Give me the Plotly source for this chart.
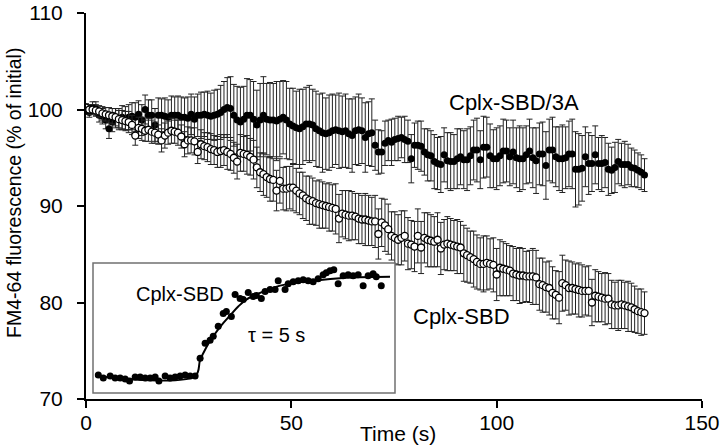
import plotly.graph_objects as go

# ---------------- data ----------------
STEP = 0.8  # s between samples
time_s = [round(i * STEP, 1) for i in range(171)]

# Cplx-SBD/3A (filled circles), mean and SEM
sbd3a_mean = [
    100.0, 99.7, 100.2, 100.1, 99.4, 99.3, 98.9, 98.0, 98.7, 99.1,
    99.0, 99.2, 99.1, 99.2, 99.3, 99.2, 99.5, 98.9, 100.0, 99.4,
    99.4, 98.4, 99.4, 99.4, 99.3, 99.2, 99.4, 99.4, 99.4, 99.2,
    99.2, 99.1, 99.5, 99.0, 99.4, 99.4, 99.5, 99.4, 99.3, 99.4,
    99.5, 99.7, 100.0, 100.2, 100.1, 99.4, 98.9, 98.7, 99.0, 99.4,
    99.4, 99.0, 98.4, 98.9, 99.4, 99.0, 98.9, 98.9, 98.8, 99.0,
    99.2, 98.9, 98.5, 98.3, 98.1, 98.0, 98.2, 98.5, 98.5, 98.4,
    98.0, 97.8, 97.6, 97.5, 97.6, 97.8, 97.9, 97.8, 97.7, 97.8,
    97.5, 97.3, 97.8, 97.9, 97.8, 97.1, 97.5, 97.6, 96.3, 95.6,
    95.6, 96.5, 96.8, 96.6, 96.9, 97.0, 97.1, 96.9, 96.7, 94.9,
    96.3, 96.3, 96.2, 95.6, 95.3, 95.2, 94.6, 94.4, 94.3, 95.3,
    94.7, 94.6, 94.6, 94.9, 95.1, 94.8, 94.8, 95.2, 95.8, 95.8,
    94.8, 96.1, 96.1, 95.2, 94.9, 94.9, 95.2, 95.7, 95.7, 95.1,
    95.6, 95.0, 94.9, 94.9, 95.3, 95.7, 95.0, 94.7, 95.4, 95.4,
    94.2, 95.8, 95.8, 95.1, 94.9, 94.9, 95.0, 95.4, 95.4, 93.8,
    93.8, 93.9, 95.1, 94.4, 94.4, 95.3, 94.4, 94.4, 94.5, 93.8,
    93.7, 94.0, 94.6, 94.3, 94.3, 94.3, 94.0, 93.9, 93.7, 93.5,
    93.2,
]
sbd3a_err = [
    0.5, 0.5, 0.6, 0.7, 0.7, 0.8, 0.9, 1.0, 1.0, 1.0,
    1.1, 1.2, 1.2, 1.3, 1.4, 1.5, 1.4, 1.6, 1.5, 1.6,
    1.6, 1.7, 1.8, 1.7, 1.9, 1.8, 2.0, 1.9, 2.0, 2.1,
    2.0, 2.2, 2.1, 2.3, 2.2, 2.4, 2.3, 2.5, 2.4, 2.6,
    2.6, 2.8, 2.9, 3.1, 3.3, 3.2, 3.5, 3.6, 3.4, 3.8,
    3.7, 3.9, 3.6, 3.8, 4.0, 3.7, 3.9, 3.8, 4.1, 3.9,
    3.8, 4.0, 3.7, 3.9, 3.8, 4.1, 3.9, 3.8, 4.0, 3.7,
    3.9, 3.8, 4.1, 3.7, 3.9, 3.8, 3.6, 3.9, 3.7, 3.8,
    3.6, 3.8, 3.5, 3.7, 3.4, 3.6, 3.3, 3.5, 2.6, 2.3,
    2.2, 2.3, 2.1, 2.4, 2.2, 2.3, 2.1, 2.4, 2.2, 2.5,
    2.3, 2.5, 2.6, 2.4, 2.7, 2.6, 2.8, 2.7, 2.9, 2.8,
    2.9, 3.0, 2.8, 3.1, 2.9, 3.0, 3.2, 3.0, 3.1, 3.3,
    3.0, 3.2, 3.1, 3.3, 3.0, 3.2, 3.1, 3.3, 3.2, 3.0,
    3.3, 3.1, 3.4, 3.2, 3.0, 3.3, 3.1, 3.4, 3.2, 3.3,
    3.5, 3.2, 3.4, 3.1, 3.3, 3.5, 3.2, 3.4, 3.6, 3.9,
    3.7, 3.4, 3.1, 3.2, 2.9, 3.0, 2.7, 2.9, 2.6, 2.7,
    2.4, 2.6, 2.3, 2.2, 2.4, 2.1, 2.0, 1.9, 1.8, 1.8,
    1.7,
]

# Cplx-SBD (open circles), mean and SEM
sbd_mean = [
    100.2, 100.0, 100.0, 99.9, 99.8, 99.6, 99.5, 99.4, 99.3, 99.2,
    99.0, 98.9, 98.8, 98.7, 98.4, 97.3, 98.1, 98.0, 97.8, 97.9,
    97.7, 97.6, 97.4, 96.8, 97.3, 97.6, 97.8, 97.7, 97.6, 97.2,
    96.4, 96.8, 96.8, 96.7, 95.6, 96.4, 96.2, 96.1, 95.9, 95.8,
    95.6, 95.7, 95.8, 95.6, 95.4, 95.0, 94.6, 95.5, 95.4, 95.3,
    95.1, 94.8, 94.0, 93.5, 93.3, 93.0, 92.8, 92.7, 91.6, 92.6,
    91.8, 91.8, 91.9, 91.9, 91.6, 91.3, 91.1, 90.8, 90.6, 90.5,
    90.3, 90.2, 90.1, 90.0, 89.9, 89.8, 89.7, 88.7, 89.2, 89.1,
    89.0, 89.0, 88.9, 88.7, 88.6, 88.6, 88.5, 88.4, 88.4, 87.1,
    88.3, 88.0, 87.6, 86.9, 86.7, 86.5, 86.7, 86.9, 86.1, 86.0,
    85.8, 86.9, 85.7, 86.7, 86.5, 86.4, 86.3, 86.5, 85.6, 86.0,
    86.1, 86.0, 85.9, 85.8, 85.7, 85.1, 84.9, 84.7, 84.5, 84.2,
    84.0, 84.0, 84.1, 84.0, 83.9, 82.9, 83.6, 83.5, 83.4, 83.3,
    83.0, 82.9, 82.8, 82.8, 82.7, 82.7, 82.7, 82.6, 81.9, 81.8,
    81.6, 81.5, 81.0, 80.8, 80.5, 82.0, 81.8, 81.5, 81.5, 81.4,
    81.3, 81.2, 81.2, 81.2, 80.0, 80.7, 80.6, 80.5, 80.4, 80.4,
    79.8, 79.7, 79.7, 79.8, 79.7, 79.6, 79.5, 79.3, 79.1, 79.0,
    78.9,
]
sbd_err = [
    0.4, 0.5, 0.5, 0.6, 0.6, 0.7, 0.7, 0.8, 0.8, 0.9,
    0.9, 1.0, 1.0, 1.1, 1.0, 1.0, 1.1, 1.2, 1.1, 1.2,
    1.2, 1.1, 1.0, 1.2, 1.3, 1.2, 1.3, 1.2, 1.3, 1.2,
    1.3, 1.4, 1.3, 1.4, 1.2, 1.5, 1.4, 1.5, 1.6, 1.5,
    1.6, 1.7, 1.6, 1.8, 1.7, 1.6, 1.8, 1.9, 1.8, 2.0,
    1.9, 2.0, 2.1, 2.0, 2.2, 2.1, 2.3, 2.2, 2.1, 2.3,
    2.2, 2.3, 2.2, 2.4, 2.3, 2.2, 2.4, 2.3, 2.5, 2.4,
    2.3, 2.5, 2.4, 2.3, 2.5, 2.4, 2.6, 2.5, 2.4, 2.5,
    2.6, 2.5, 2.4, 2.6, 2.5, 2.7, 2.6, 2.5, 2.7, 2.6,
    2.5, 2.7, 2.6, 2.5, 2.7, 2.6, 2.8, 2.6, 2.7, 2.5,
    2.6, 2.8, 2.7, 2.6, 2.8, 2.7, 2.6, 2.8, 2.7, 2.6,
    2.8, 2.7, 2.6, 2.8, 2.7, 2.9, 2.8, 2.7, 2.9, 2.8,
    2.7, 2.9, 2.8, 2.6, 2.8, 2.7, 2.9, 2.8, 2.7, 2.6,
    2.8, 2.7, 2.9, 2.8, 2.6, 2.7, 2.9, 2.8, 2.7, 2.8,
    2.6, 2.8, 2.7, 2.5, 2.7, 2.9, 2.6, 2.8, 2.7, 2.6,
    2.8, 2.7, 2.5, 2.6, 2.4, 2.7, 2.6, 2.5, 2.7, 2.6,
    2.5, 2.4, 2.6, 2.5, 2.4, 2.6, 2.5, 2.4, 2.3, 2.4,
    2.2,
]

# Inset: single-trace response (normalised) with exponential fit (tau = 5 s)
inset_t = [
    0.0, 0.8, 1.9, 2.7, 3.5, 4.3, 5.0, 5.9, 6.7, 7.5,
    8.3, 9.1, 9.7, 10.7, 11.5, 12.3, 13.1, 13.9, 14.7, 15.5,
    16.3, 17.1, 17.9, 18.4, 19.2, 20.0, 20.5, 21.3, 21.9, 22.7,
    23.2, 24.0, 24.8, 25.3, 26.1, 26.7, 27.5, 28.3, 28.8, 29.9,
    30.4, 31.2, 32.0, 32.8, 33.6, 34.4, 35.2, 36.0, 36.5, 37.1,
    37.7, 38.4, 39.2, 40.0, 40.8, 41.6, 42.4, 43.2, 44.0, 44.5,
    45.3,
]
inset_v = [
    0.01, -0.02, 0.00, -0.02, -0.02, -0.03, -0.05, -0.01, -0.01, -0.02,
    -0.02, -0.01, -0.05, 0.00, -0.02, -0.01, 0.00, 0.01, 0.00, 0.00,
    0.18, 0.33, 0.36, 0.40, 0.50, 0.63, 0.65, 0.60, 0.82, 0.78,
    0.77, 0.84, 0.80, 0.81, 0.78, 0.85, 0.87, 0.87, 0.96, 0.87,
    0.93, 0.95, 0.96, 0.97, 0.96, 0.95, 0.98, 1.02, 1.04, 1.06,
    1.07, 0.93, 1.01, 1.02, 1.01, 1.02, 0.91, 1.01, 1.03, 1.00,
    0.91,
]
fit_t = [-0.5, 15.5, 16.3, 17.3, 18.4, 19.7, 21.1, 22.4, 23.7, 26.4, 29.1, 34.4, 39.7, 46.7]
fit_v = [0.0, 0.0, 0.16, 0.29, 0.40, 0.51, 0.61, 0.70, 0.77, 0.85, 0.91, 0.96, 0.99, 1.00]

FONT = "Liberation Sans, Arial, sans-serif"

ML, MR, MT, MB = 86, 18, 13, 47
W_PLOT = 720 - ML - MR
H_PLOT = 446 - MT - MB
X0, Y0 = ML, 446 - MB  # pixel of plot-area lower-left corner


def px_x(p):
    return (p - X0) / W_PLOT


def px_y(p):
    return (Y0 - p) / H_PLOT


fig = go.Figure()

fig.add_trace(go.Scatter(
    x=time_s, y=sbd3a_mean, mode="markers",
    marker=dict(size=7, color="black", line=dict(width=0)),
    error_y=dict(type="data", array=sbd3a_err, color="#222", thickness=1, width=3),
    showlegend=False, xaxis="x", yaxis="y"))

fig.add_trace(go.Scatter(
    x=time_s, y=sbd_mean, mode="markers",
    marker=dict(size=7, color="white", line=dict(width=1.3, color="black")),
    error_y=dict(type="data", array=sbd_err, color="#222", thickness=1, width=3),
    showlegend=False, xaxis="x", yaxis="y"))

# inset
fig.add_trace(go.Scatter(
    x=fit_t, y=fit_v, mode="lines", line=dict(color="black", width=2, shape="spline"),
    showlegend=False, xaxis="x2", yaxis="y2"))
fig.add_trace(go.Scatter(
    x=inset_t, y=inset_v, mode="markers",
    marker=dict(size=7, color="black"),
    showlegend=False, xaxis="x2", yaxis="y2"))

fig.update_layout(
    width=720, height=446,
    margin=dict(l=ML, r=MR, t=MT, b=MB, autoexpand=False),
    paper_bgcolor="white", plot_bgcolor="white",
    font=dict(family=FONT, size=21, color="black"),
    xaxis=dict(range=[0, 150], tickvals=[0, 50, 100, 150], showgrid=False, zeroline=False,
               showline=True, linecolor="black", linewidth=2, ticks="outside",
               ticklen=7, tickwidth=2, tickcolor="black", ticklabelstandoff=-3,
               ticklabeloverflow="allow", automargin=False, tickfont=dict(size=21)),
    yaxis=dict(range=[70, 110], tickvals=[70, 80, 90, 100, 110], showgrid=False, zeroline=False,
               showline=True, linecolor="black", linewidth=2, ticks="outside",
               ticklen=7, tickwidth=2, tickcolor="black", ticklabelstandoff=10,
               ticklabeloverflow="allow", automargin=False, tickfont=dict(size=21)),
    xaxis2=dict(domain=[px_x(93), px_x(395)], range=[-0.85, 47.5], visible=False, anchor="y2"),
    yaxis2=dict(domain=[px_y(393), px_y(263)], range=[-0.171, 1.138], visible=False, anchor="x2"),
    shapes=[dict(type="rect", xref="paper", yref="paper", x0=px_x(93), x1=px_x(395),
                 y0=px_y(393), y1=px_y(263), line=dict(color="#707070", width=1.5),
                 fillcolor="rgba(0,0,0,0)")],
    annotations=[
        dict(text="Cplx-SBD/3A", x=104.3, y=100.7, xref="x", yref="y", showarrow=False,
             font=dict(size=22)),
        dict(text="Cplx-SBD", x=91.4, y=78.6, xref="x", yref="y", showarrow=False,
             font=dict(size=22)),
        dict(text="Cplx-SBD", x=13.1, y=0.826, xref="x2", yref="y2", showarrow=False,
             font=dict(size=20)),
        dict(text="τ = 5 s", x=28.6, y=0.413, xref="x2", yref="y2", showarrow=False,
             font=dict(size=20)),
        dict(text="Time (s)", x=px_x(398), y=px_y(433), xref="paper", yref="paper",
             xanchor="center", yanchor="middle", showarrow=False, font=dict(size=21)),
        dict(text="FM4-64 fluorescence (% of initial)", textangle=-90,
             x=px_x(14), y=px_y(193), xref="paper", yref="paper",
             xanchor="center", yanchor="middle", showarrow=False, font=dict(size=19.5)),
    ],
)

fig.write_html(
    "out.html",
    config={"displayModeBar": False},
    post_script="document.body.style.margin='0px';document.body.style.padding='0px';",
)
